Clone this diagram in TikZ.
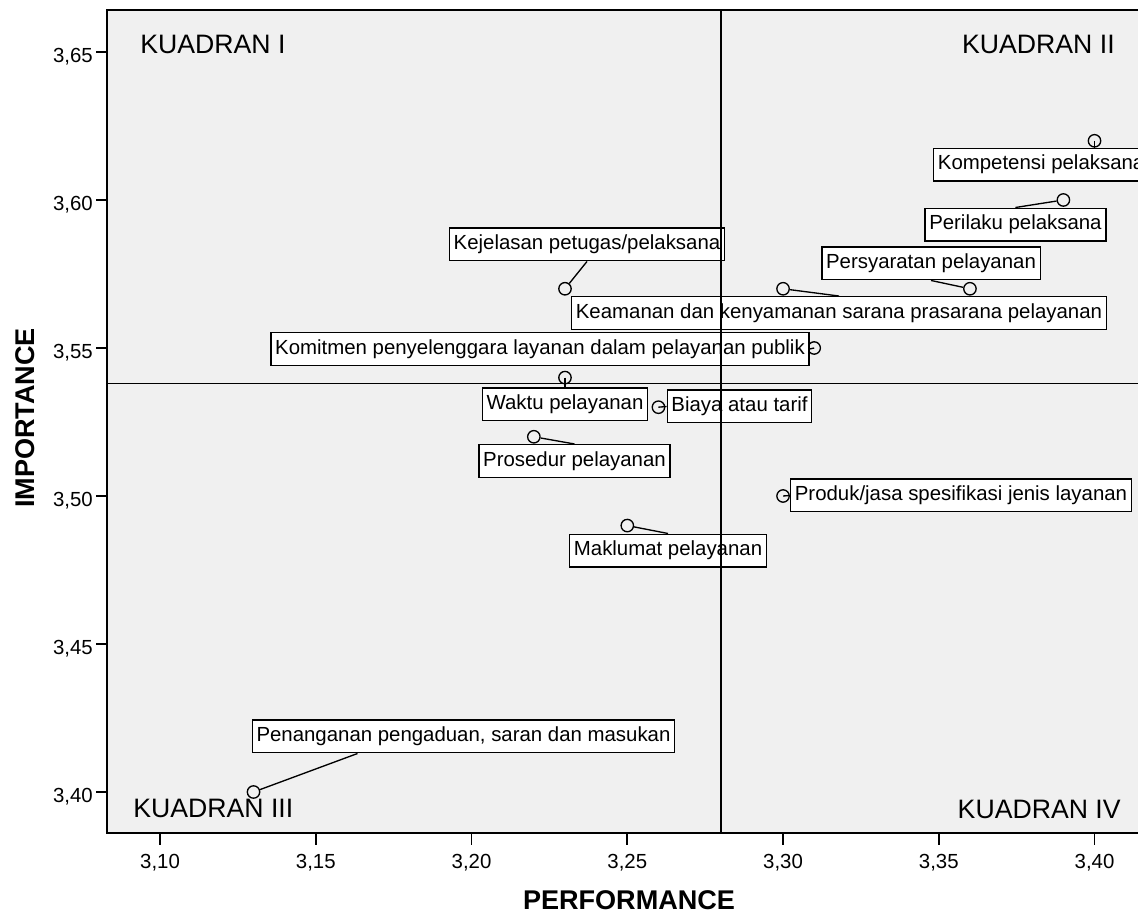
\documentclass[tikz,border=0pt]{standalone}
\usepackage{fontspec}
\setmainfont{Liberation Sans}
\usetikzlibrary{calc}
\definecolor{plotgray}{RGB}{240,240,240}
\tikzstyle{frame}=[line width=1.4pt]
\tikzstyle{meanline}=[line width=1.3pt]
\tikzstyle{marker}=[draw,circle,line width=1pt,minimum size=9.3pt,inner sep=0pt]
\tikzstyle{labelbox}=[draw,fill=white,line width=1pt,inner xsep=3.2pt,inner ysep=0pt,minimum height=24.5pt,text height=11.2pt,text depth=3.3pt,font=\fontsize{15.3}{18}\selectfont]
\tikzstyle{leader}=[line width=1pt]
\tikzstyle{quadrant}=[inner sep=0pt,font=\fontsize{20}{24}\selectfont]
\tikzstyle{axistitle}=[inner sep=0pt,font=\fontsize{20.3}{24}\selectfont\bfseries]
\tikzstyle{ticklabel}=[inner sep=0pt,font=\fontsize{15.3}{18}\selectfont]
\newcommand{\newpoint}[5][center]{% name, (performance,importance), label position, text
  \node[marker] (p#2) at (#3) {};
  \node[labelbox,anchor=#1] (l#2) at (#4) {#5};
}

\begin{document}
\begin{tikzpicture}[x=2336.25pt,y=2220pt,shift={(-3,-3.3)}]
	\useasboundingbox (3.04862,3.35845) rectangle (3.41395,3.66757);
	\clip (3.04862,3.35845) rectangle (3.41395,3.66757);
	\fill[plotgray] (3.08297,3.38605) rectangle (3.45,3.66409);
	% ticks
	\foreach \i in {10,15,...,40} {
	\draw[frame] (3+\i/100,3.38605) -- ++(0,-9pt);
	\node[ticklabel,anchor=base] (xt\i) at (3+\i/100,3.37432) {3,\i};
	}
	\foreach \j in {40,45,...,65} {
	\draw[frame] (3.08297,3+\j/100) -- ++(-8.5pt,0);
	\node[ticklabel,anchor=base east] (yt\j) at (3.07848,3+\j/100-0.00338) {3,\j};
	}
	% points
	\newpoint[west]{1}{3.40,3.62}{3.34814,3.61199}{Kompetensi pelaksana}
	\newpoint{2}{3.39,3.60}{3.37461,3.59172}{Perilaku pelaksana}
	\newpoint{3}{3.36,3.57}{3.34750,3.57855}{Persyaratan pelayanan}
	\newpoint{4}{3.30,3.57}{3.31796,3.56182}{Keamanan dan kenyamanan sarana prasarana pelayanan}
	\newpoint{5}{3.23,3.57}{3.23706,3.58497}{Kejelasan petugas/pelaksana}
	\newpoint{6}{3.31,3.55}{3.22198,3.54966}{Komitmen penyelenggara layanan dalam pelayanan publik}
	\newpoint{7}{3.23,3.54}{3.23000,3.53091}{Waktu pelayanan}
	\newpoint{8}{3.26,3.53}{3.28602,3.53024}{Biaya atau tarif}
	\newpoint{9}{3.22,3.52}{3.23305,3.51182}{Prosedur pelayanan}
	\newpoint{10}{3.30,3.50}{3.35713,3.50017}{Produk/jasa spesifikasi jenis layanan}
	\newpoint{11}{3.25,3.49}{3.26307,3.48159}{Maklumat pelayanan}
	\newpoint{12}{3.13,3.40}{3.19742,3.41875}{Penanganan pengaduan, saran dan masukan}
	\draw[leader] (p1.center) -- (p1 |- l1.north);
	\draw[leader] (p2) -- (l2.north);
	\draw[leader] (p3) -- (l3.south);
	\draw[leader] (p4) -- (l4.north);
	\draw[leader] (p5) -- (l5.south);
	\draw[leader] (p6.center) -- (l6.east);
	\draw[leader] (p7.center) -- (l7.north);
	\draw[leader] (p8.center) -- (l8.west);
	\draw[leader] (p9) -- (l9.north);
	\draw[leader] (p10.center) -- (l10.west);
	\draw[leader] (p11) -- (l11.north);
	\draw[leader] (p12) -- ($(l12.south west)!0.25!(l12.south east)$);
	% mean lines
	\draw[meanline] (3.28,3.38605) -- (3.28,3.66409);
	\draw[meanline] (3.08297,3.538) -- (3.45,3.538);
	\node[quadrant,anchor=base west] (q1) at (3.09356,3.64966) {KUADRAN I};
	\node[quadrant,anchor=base east] (q2) at (3.40657,3.64966) {KUADRAN II};
	\node[quadrant,anchor=base west] (q3) at (3.09132,3.39122) {KUADRAN III};
	\node[quadrant,anchor=base east] (q4) at (3.40849,3.39088) {KUADRAN IV};
	\draw[frame] (3.45,3.66409) -- (3.08297,3.66409) -- (3.08297,3.38605) -- (3.45,3.38605);
	\node[axistitle] (xtitle) at (3.25055,3.3636) {PERFORMANCE};
	\node[axistitle,rotate=90] (ytitle) at (3.05665,3.52635) {IMPORTANCE};
\end{tikzpicture}
\end{document}
